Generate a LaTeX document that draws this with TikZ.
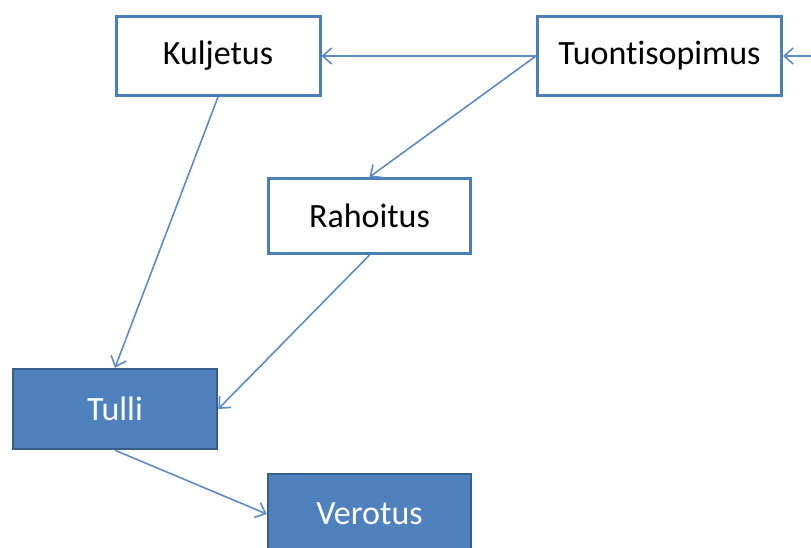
\documentclass[tikz,border=0pt]{standalone}
\usepackage{fontspec}
\setmainfont{Carlito}[RawFeature=-liga]
\usetikzlibrary{arrows.meta}
\definecolor{boxline}{HTML}{4A7EBB}
\definecolor{fillblue}{HTML}{4F81BD}
\definecolor{darkline}{HTML}{385D8A}
\definecolor{conn}{HTML}{5B8BC9}
\tikzset{
  whitebox/.style={draw=boxline, line width=3pt, fill=white, inner sep=0pt,
    font=\fontsize{34}{40}\selectfont, text=black},
  bluebox/.style={draw=darkline, line width=2.5pt, fill=fillblue, inner sep=0pt,
    font=\fontsize{34}{40}\selectfont, text=white},
  conn/.style={draw=conn, line width=1.6pt, -{Straight Barb[length=9pt,width=16pt,line width=1.6pt]}}
}
\begin{document}
\begin{tikzpicture}[x=1pt,y=-1pt]
\useasboundingbox (0,0) rectangle (811,547);
\node[whitebox, minimum width=204pt, minimum height=79pt] (kul) at (218,56) {Kuljetus};
\node[whitebox, minimum width=244pt, minimum height=79pt] (tuo) at (659.5,56) {Tuontisopimus};
\node[whitebox, minimum width=202pt, minimum height=75pt] (rah) at (369.5,216) {Rahoitus};
\node[bluebox, minimum width=204pt, minimum height=80pt] (tul) at (115,409) {Tulli};
\node[bluebox, minimum width=203pt, minimum height=80pt] (ver) at (369.5,514) {Verotus};
\coordinate (in) at (811,56);
\draw[conn] (in) -- (tuo.east);
\draw[conn] (tuo.west) -- (kul.east);
\draw[conn] (tuo.west) -- (rah.north);
\draw[conn] (kul.south) -- (tul.north);
\draw[conn] (rah.south) -- (tul.east);
\draw[conn] (tul.south) -- (ver.west);
\end{tikzpicture}
\end{document}
